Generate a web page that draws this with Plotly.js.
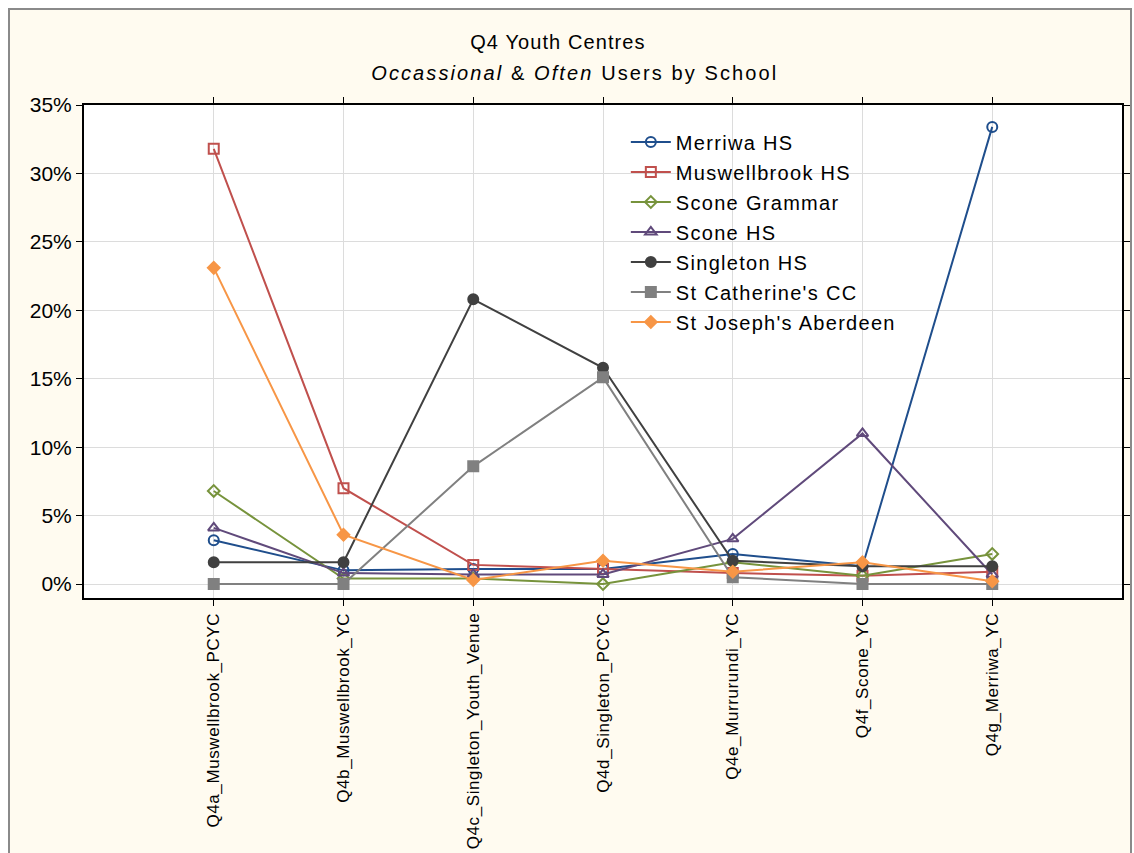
<!DOCTYPE html>
<html>
<head>
<meta charset="utf-8">
<script src="https://cdn.plot.ly/plotly-3.0.1.min.js"></script>
<style>
  html, body { margin: 0; padding: 0; background: #ffffff; }
  #wrap { position: absolute; left: 8px; top: 8px; width: 1120px; height: 845px;
          border-left: 2px solid #8a8a8a; border-top: 2px solid #8a8a8a; border-right: 2px solid #8a8a8a;
          background: #fffbf0; }
  #chart { width: 1120px; height: 845px; }
  g.annotation[data-index="0"] text { letter-spacing: 1.1px; }
  g.annotation[data-index="1"] text { letter-spacing: 2.1px; }
  .legendtext { letter-spacing: 1.3px; }
  .xtick text { letter-spacing: 0.6px; }
</style>
</head>
<body>
<div id="wrap"><div id="chart"></div></div>
<script>
const categories = ["Q4a_Muswellbrook_PCYC", "Q4b_Muswellbrook_YC", "Q4c_Singleton_Youth_Venue",
  "Q4d_Singleton_PCYC", "Q4e_Murrurundi_YC", "Q4f_Scone_YC", "Q4g_Merriwa_YC"];

const merriwaHS      = [0.032, 0.010, 0.011, 0.011, 0.022, 0.013, 0.334];
const muswellbrookHS = [0.318, 0.070, 0.014, 0.011, 0.008, 0.006, 0.009];
const sconeGrammar   = [0.068, 0.004, 0.004, 0.000, 0.016, 0.006, 0.022];
const sconeHS        = [0.041, 0.008, 0.007, 0.007, 0.033, 0.110, 0.007];
const singletonHS    = [0.016, 0.016, 0.208, 0.158, 0.017, 0.013, 0.013];
const stCatherines   = [0.000, 0.000, 0.086, 0.151, 0.005, 0.000, 0.000];
const stJosephs      = [0.231, 0.036, 0.003, 0.017, 0.009, 0.016, 0.002];

const yTickVals = [0, 0.05, 0.10, 0.15, 0.20, 0.25, 0.30, 0.35];
const yTickText = ["0%", "5%", "10%", "15%", "20%", "25%", "30%", "35%"];

const titleLine1 = "Q4 Youth Centres";
const titleLine2 = "<i>Occassional</i> &amp; <i>Often</i> Users by School";

const seriesNames = ["Merriwa HS", "Muswellbrook HS", "Scone Grammar", "Scone HS",
  "Singleton HS", "St Catherine's CC", "St Joseph's Aberdeen"];
const seriesData = [merriwaHS, muswellbrookHS, sconeGrammar, sconeHS, singletonHS, stCatherines, stJosephs];
const colors = ["#1f4e8c", "#c0504d", "#77933c", "#604a7b", "#404040", "#808080", "#f79646"];
const symbols = ["circle-open", "square-open", "diamond-open", "triangle-up-open", "circle", "square", "diamond"];
const sizes = [10, 10, 9, 10, 10, 10, 9];

const xPos = categories.map((c, i) => i + 1);

const traces = seriesNames.map((name, k) => ({
  type: "scatter",
  mode: "lines+markers",
  name: name,
  legendgroup: "g" + k,
  x: xPos,
  y: seriesData[k],
  line: { color: colors[k], width: 2 },
  marker: { symbol: symbols[k], size: sizes[k], color: colors[k],
            line: { color: colors[k], width: 2 } }
}));

const FONT = "Liberation Sans, Arial, sans-serif";

const layout = {
  width: 1120,
  height: 845,
  paper_bgcolor: "#fffbf0",
  plot_bgcolor: "#ffffff",
  margin: { l: 74, r: 8, t: 95, b: 257 },
  font: { family: FONT, color: "#000000" },
  annotations: [
    { text: titleLine1, xref: "paper", yref: "paper", x: 0.4566, y: (588 - 32) / 493,
      xanchor: "center", yanchor: "middle", showarrow: false,
      font: { size: 20, family: FONT, color: "#000" } },
    { text: titleLine2, xref: "paper", yref: "paper", x: 0.473, y: (588 - 63) / 493,
      xanchor: "center", yanchor: "middle", showarrow: false,
      font: { size: 20, family: FONT, color: "#000" } }
  ],
  xaxis: {
    range: [0, 8],
    tickmode: "array",
    tickvals: xPos,
    ticktext: categories,
    tickangle: -90,
    tickfont: { size: 17 },
    ticks: "outside",
    ticklen: 6,
    tickcolor: "#000",
    showline: true,
    linecolor: "#000",
    linewidth: 2,
    mirror: "ticks",
    showgrid: true,
    gridcolor: "#dcdcdc",
    gridwidth: 1,
    zeroline: false
  },
  yaxis: {
    range: [-0.0102, 0.35],
    tickmode: "array",
    tickvals: yTickVals,
    ticktext: yTickText,
    tickfont: { size: 21 },
    ticks: "outside",
    ticklen: 6,
    tickcolor: "#000",
    showline: true,
    linecolor: "#000",
    linewidth: 2,
    mirror: "ticks",
    showgrid: true,
    gridcolor: "#dcdcdc",
    gridwidth: 1,
    zeroline: false
  },
  legend: {
    x: 0.522, xanchor: "left",
    y: 0.9645, yanchor: "top",
    bgcolor: "rgba(0,0,0,0)",
    font: { size: 20 },
    tracegroupgap: 1,
    itemwidth: 40
  },
  showlegend: true
};

Plotly.newPlot("chart", traces, layout, { displayModeBar: false, staticPlot: true });
</script>
</body>
</html>
